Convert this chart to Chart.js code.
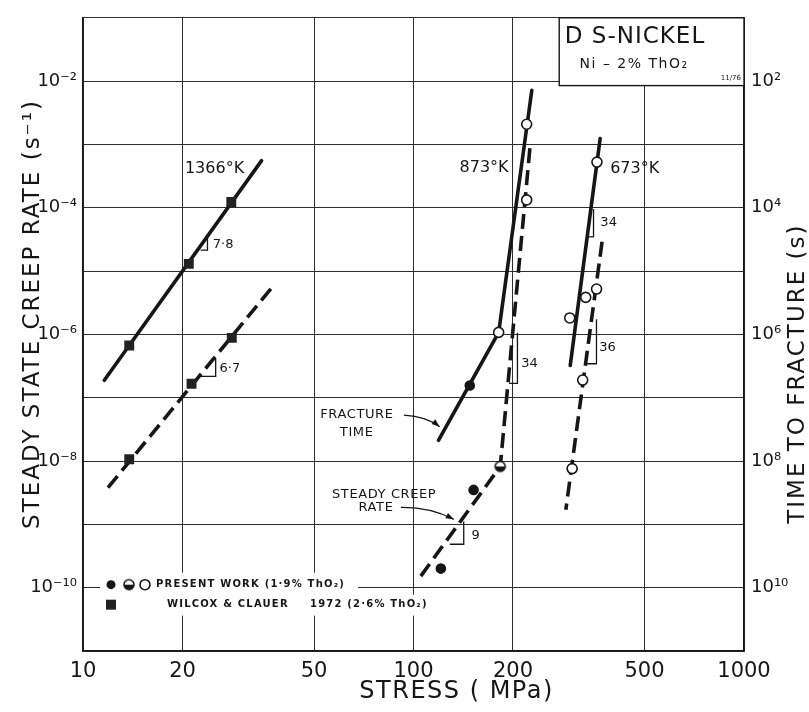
<!DOCTYPE html>
<html><head><meta charset="utf-8">
<script src="https://cdn.jsdelivr.net/npm/chart.js@4.4.0/dist/chart.umd.min.js"></script>
<style>html,body{margin:0;padding:0;background:#fff;}#wrap{width:809px;height:712px;position:relative;}</style>
</head><body><div id="wrap"><canvas id="c"></canvas></div>
<script>
// ---------------- DATA ----------------
const stressTicks = [10, 20, 50, 100, 200, 500, 1000];
const rateTicks = [1e-11, 1e-10, 1e-9, 1e-8, 1e-7, 1e-6, 1e-5, 1e-4, 1e-3, 1e-2, 1e-1];
const rateLabelExps = [-2, -4, -6, -8, -10];
const timeTicks = [1e1, 1e2, 1e3, 1e4, 1e5, 1e6, 1e7, 1e8, 1e9, 1e10, 1e11];
const timeLabelExps = [2, 4, 6, 8, 10];

// 1366 K  (Wilcox & Clauer 1972, squares)
const w1366FracLineStress = [11.6, 34.7];
const w1366FracLineTime = [5.3e6, 1.8e3];
const w1366FracStress = [13.8, 20.9, 28.1];
const w1366FracTime = [1.5e6, 7.7e4, 8.1e3];
const w1366CreepLineStress = [11.9, 37.6];
const w1366CreepLineRate = [3.8e-9, 5.8e-6];
const w1366CreepStress = [13.8, 21.3, 28.2];
const w1366CreepRate = [1.07e-8, 1.66e-7, 8.8e-7];

// 873 K  (present work)
const p873FracLineStress = [228, 181, 119];
const p873FracLineTime = [1.4e2, 9.3e5, 4.7e7];
const p873FracOpenStress = [220, 181];
const p873FracOpenTime = [4.8e2, 9.3e5];
const p873FracFilledStress = [148];
const p873FracFilledTime = [6.4e6];
const p873CreepLineStress = [225, 183, 104];
const p873CreepLineRate = [8.7e-4, 8.2e-9, 1.4e-10];
const p873CreepOpenStress = [220];
const p873CreepOpenRate = [1.33e-4];
const p873CreepHalfStress = [183];
const p873CreepHalfRate = [8.2e-9];
const p873CreepFilledStress = [152, 121];
const p873CreepFilledRate = [3.5e-9, 2.0e-10];

// 673 K  (present work)
const p673FracLineStress = [367, 298];
const p673FracLineTime = [8.1e2, 3.1e6];
const p673FracOpenStress = [359, 332, 297];
const p673FracOpenTime = [1.9e3, 2.6e5, 5.5e5];
const p673CreepLineStress = [372, 289];
const p673CreepLineRate = [2.9e-5, 1.7e-9];
const p673CreepOpenStress = [358, 325, 302];
const p673CreepOpenRate = [5.2e-6, 1.9e-7, 7.6e-9];

// annotations (data coordinates: stress, creep-rate)
const tempLabels = ['1366°K', '873°K', '673°K'];
const tempLabelStress = [25.0, 163.5, 467];
const tempLabelRate = [4.1e-4, 4.2e-4, 4.1e-4];

const slopeLabels = ['7·8', '6·7', '34', '34', '36', '9'];
const slopeTopStress = [23.8, 25.2, 350.5, 206.3, 357.8, 141.9];
const slopeTopRate = [3.42e-5, 4.16e-7, 9.57e-5, 1.06e-6, 1.74e-6, 1.11e-9];
const slopeCornerRate = [2.14e-5, 2.17e-7, 3.48e-5, 1.69e-7, 3.44e-7, 4.85e-10];
const slopeLeftStress = [22.7, 22.7, 335.6, 194.5, 332.7, 128.8];
const slopeTextStress = [24.7, 25.9, 367.6, 211.7, 364.5, 149.8];
const slopeTextRate = [2.65e-5, 2.9e-7, 5.75e-5, 3.47e-7, 6.1e-7, 6.68e-10];

const noteLines = ['FRACTURE', 'TIME', 'STEADY CREEP', 'RATE'];
const noteStress = [67.4, 67.3, 81.5, 77.0];
const noteRate = [5.46e-8, 2.85e-8, 2.99e-9, 1.81e-9];

const arrowStartStress = [93.5, 91.6];
const arrowStartRate = [5.3e-8, 1.85e-9];
const arrowCtrlStress = [109.7, 112.1];
const arrowCtrlRate = [5.04e-8, 1.88e-9];
const arrowEndStress = [120, 132.4];
const arrowEndRate = [3.49e-8, 1.2e-9];

const boxLines = ['D S-NICKEL', 'Ni – 2% ThO₂'];
const boxLineStress = [468, 465];
const boxLineRate = [0.05, 0.0183];
const boxDate = '11/76';
const boxLeftStress = 276;
const boxBottomRate = 8.5e-3;

const legendPresent = 'PRESENT WORK (1·9% ThO₂)';
const legendWilcox = 'WILCOX & CLAUER';
const legendWilcoxYear = '1972 (2·6% ThO₂)';

const xTitle = 'STRESS ( MPa)';
const xTitleStress = 135;
const yTitle = 'STEADY STATE CREEP RATE (s⁻¹)';
const yTitleRate = 2.1e-6;
const y2Title = 'TIME TO FRACTURE (s)';
const y2TitleRate = 2.4e-7;

// ---------------- CHART ----------------
const F = "'DejaVu Sans', sans-serif";
const INK = '#161616';
const SUP = {'-':'⁻','0':'⁰','1':'¹','2':'²','3':'³','4':'⁴','5':'⁵','6':'⁶','7':'⁷','8':'⁸','9':'⁹'};
const sup = n => String(n).split('').map(c => SUP[c]).join('');
const pts = (xs, ys) => xs.map((x, i) => ({x: x, y: ys[i]}));

function halfCircle(r) {
  const s = 2 * r + 4, c = document.createElement('canvas');
  c.width = c.height = s;
  const g = c.getContext('2d'), m = s / 2;
  g.beginPath(); g.arc(m, m, r, 0, 2 * Math.PI); g.fillStyle = '#fff'; g.fill();
  g.beginPath(); g.arc(m, m, r, 0, Math.PI); g.closePath(); g.fillStyle = INK; g.fill();
  g.beginPath(); g.arc(m, m, r, 0, 2 * Math.PI); g.lineWidth = 1.6; g.strokeStyle = INK; g.stroke();
  return c;
}
const halfImg = halfCircle(5);

function lineDs(data, axis, dashed) {
  return {data, yAxisID: axis, showLine: true, borderColor: INK, borderWidth: 3.6,
    borderDash: dashed ? [15, 7] : [], borderCapStyle: dashed ? 'butt' : 'round',
    pointRadius: 0, pointHoverRadius: 0, fill: false, tension: 0, order: 2};
}
function ptDs(data, axis, kind) {
  const d = {data, yAxisID: axis, showLine: false, order: 1, pointBorderColor: INK, pointBorderWidth: 1.6};
  if (kind === 'square') { d.pointStyle = 'rect'; d.pointRadius = 7; d.pointBackgroundColor = '#222'; d.pointBorderWidth = 0; }
  else if (kind === 'open') { d.pointStyle = 'circle'; d.pointRadius = 5; d.pointBackgroundColor = '#fff'; }
  else if (kind === 'filled') { d.pointStyle = 'circle'; d.pointRadius = 4.5; d.pointBackgroundColor = INK; }
  else { d.pointStyle = halfImg; d.pointRadius = 5; }
  return d;
}

const datasets = [
  lineDs(pts(w1366FracLineStress, w1366FracLineTime), 'y2', false),
  lineDs(pts(w1366CreepLineStress, w1366CreepLineRate), 'y', true),
  lineDs(pts(p873FracLineStress, p873FracLineTime), 'y2', false),
  lineDs(pts(p873CreepLineStress, p873CreepLineRate), 'y', true),
  lineDs(pts(p673FracLineStress, p673FracLineTime), 'y2', false),
  lineDs(pts(p673CreepLineStress, p673CreepLineRate), 'y', true),
  ptDs(pts(w1366FracStress, w1366FracTime), 'y2', 'square'),
  ptDs(pts(w1366CreepStress, w1366CreepRate), 'y', 'square'),
  ptDs(pts(p873FracOpenStress, p873FracOpenTime), 'y2', 'open'),
  ptDs(pts(p873FracFilledStress, p873FracFilledTime), 'y2', 'filled'),
  ptDs(pts(p873CreepOpenStress, p873CreepOpenRate), 'y', 'open'),
  ptDs(pts(p873CreepHalfStress, p873CreepHalfRate), 'y', 'half'),
  ptDs(pts(p873CreepFilledStress, p873CreepFilledRate), 'y', 'filled'),
  ptDs(pts(p673FracOpenStress, p673FracOpenTime), 'y2', 'open'),
  ptDs(pts(p673CreepOpenStress, p673CreepOpenRate), 'y', 'open')
];

function drawMarker(ctx, kind, x, y) {
  ctx.save();
  ctx.fillStyle = INK; ctx.strokeStyle = INK; ctx.lineWidth = 1.6;
  if (kind === 'square') { ctx.fillStyle = '#222'; ctx.fillRect(x - 5, y - 5, 10, 10); }
  else if (kind === 'filled') { ctx.beginPath(); ctx.arc(x, y, 4.5, 0, 2 * Math.PI); ctx.fill(); }
  else if (kind === 'open') { ctx.beginPath(); ctx.arc(x, y, 5, 0, 2 * Math.PI); ctx.fillStyle = '#fff'; ctx.fill(); ctx.stroke(); }
  else { ctx.drawImage(halfImg, x - halfImg.width / 2, y - halfImg.height / 2); }
  ctx.restore();
}
function spacing(ctx, v) { if ('letterSpacing' in ctx) ctx.letterSpacing = v; }

const decor = {
  id: 'decor',
  afterDatasetsDraw(chart) {
    const ctx = chart.ctx, sx = chart.scales.x, sy = chart.scales.y, a = chart.chartArea;
    const X = v => sx.getPixelForValue(v), Y = v => sy.getPixelForValue(v);
    ctx.save();
    ctx.fillStyle = INK; ctx.strokeStyle = INK;

    // info box
    const bx = X(boxLeftStress), by = Y(boxBottomRate);
    ctx.fillStyle = '#fff'; ctx.fillRect(bx, a.top, a.right - bx, by - a.top);
    ctx.lineWidth = 1.4; ctx.strokeRect(bx, a.top, a.right - bx, by - a.top);
    ctx.fillStyle = INK; ctx.textAlign = 'center'; ctx.textBaseline = 'middle';
    ctx.font = '23px ' + F; spacing(ctx, '1px');
    ctx.fillText(boxLines[0], X(boxLineStress[0]), Y(boxLineRate[0]));
    ctx.font = '14px ' + F; spacing(ctx, '1.5px');
    ctx.fillText(boxLines[1], X(boxLineStress[1]), Y(boxLineRate[1]));
    spacing(ctx, '0px');
    ctx.font = '7px ' + F; ctx.textAlign = 'right';
    ctx.fillText(boxDate, a.right - 3, by - 7);

    // temperature labels
    ctx.textAlign = 'center'; ctx.font = '16px ' + F;
    tempLabels.forEach((t, i) => ctx.fillText(t, X(tempLabelStress[i]), Y(tempLabelRate[i])));

    // slope brackets
    ctx.lineWidth = 1.3; ctx.font = '13px ' + F; ctx.textAlign = 'left';
    slopeLabels.forEach((t, i) => {
      const xv = X(slopeTopStress[i]);
      ctx.beginPath();
      ctx.moveTo(xv, Y(slopeTopRate[i]));
      ctx.lineTo(xv, Y(slopeCornerRate[i]));
      ctx.lineTo(X(slopeLeftStress[i]), Y(slopeCornerRate[i]));
      ctx.stroke();
      ctx.fillText(t, X(slopeTextStress[i]), Y(slopeTextRate[i]));
    });

    // notes + arrows
    ctx.font = '13px ' + F; ctx.textAlign = 'center';
    spacing(ctx, '0.6px');
    noteLines.forEach((t, i) => ctx.fillText(t, X(noteStress[i]), Y(noteRate[i])));
    spacing(ctx, '0px');
    ctx.lineWidth = 1.3;
    arrowStartStress.forEach((s, i) => {
      const x0 = X(s), y0 = Y(arrowStartRate[i]);
      const cx = X(arrowCtrlStress[i]), cy = Y(arrowCtrlRate[i]);
      const x1 = X(arrowEndStress[i]), y1 = Y(arrowEndRate[i]);
      ctx.beginPath(); ctx.moveTo(x0, y0); ctx.quadraticCurveTo(cx, cy, x1, y1); ctx.stroke();
      const ang = Math.atan2(y1 - cy, x1 - cx), L = 8, W = 3;
      ctx.beginPath();
      ctx.moveTo(x1, y1);
      ctx.lineTo(x1 - L * Math.cos(ang) + W * Math.sin(ang), y1 - L * Math.sin(ang) - W * Math.cos(ang));
      ctx.lineTo(x1 - L * Math.cos(ang) - W * Math.sin(ang), y1 - L * Math.sin(ang) + W * Math.cos(ang));
      ctx.closePath(); ctx.fill();
    });

    // legend
    const lx = a.left + 17, ly = sy.getPixelForValue(1e-10) - 15;
    ctx.fillStyle = '#fff';
    ctx.fillRect(lx, ly, 258, 22);
    ctx.fillRect(lx, ly + 22, 314, 21);
    drawMarker(ctx, 'filled', lx + 11, ly + 12);
    drawMarker(ctx, 'half', lx + 29, ly + 12);
    drawMarker(ctx, 'open', lx + 45, ly + 12);
    drawMarker(ctx, 'square', lx + 11, ly + 32);
    ctx.fillStyle = INK; ctx.textAlign = 'left'; ctx.textBaseline = 'middle';
    ctx.font = 'bold 10px ' + F;
    spacing(ctx, '1.2px');
    ctx.fillText(legendPresent, lx + 56, ly + 12);
    ctx.fillText(legendWilcox, lx + 67, ly + 32);
    ctx.fillText(legendWilcoxYear, lx + 210, ly + 32);

    // axis titles
    ctx.font = '23px ' + F; ctx.textAlign = 'center'; ctx.textBaseline = 'middle';
    spacing(ctx, '2px');
    ctx.save(); ctx.translate(a.left - 50, Y(yTitleRate)); ctx.rotate(-Math.PI / 2);
    ctx.fillText(yTitle, 0, 0); ctx.restore();
    ctx.save(); ctx.translate(a.right + 54, Y(y2TitleRate)); ctx.rotate(-Math.PI / 2);
    ctx.fillText(y2Title, 0, 0); ctx.restore();
    ctx.font = '24px ' + F; spacing(ctx, '1.5px');
    ctx.fillText(xTitle, X(xTitleStress), a.bottom + 41);
    spacing(ctx, '0px');
    ctx.restore();
  }
};

const gridCol = '#2e2e2e';
new Chart(document.getElementById('c'), {
  type: 'scatter',
  data: {datasets},
  plugins: [decor],
  options: {
    responsive: true, maintainAspectRatio: false, animation: false,
    layout: {padding: {top: 13, left: 0, right: 0, bottom: 0}},
    plugins: {legend: {display: false}, tooltip: {enabled: false}},
    events: [],
    scales: {
      x: {
        type: 'logarithmic', position: 'bottom', min: 10, max: 1000,
        afterBuildTicks: s => { s.ticks = stressTicks.map(v => ({value: v})); },
        afterFit: s => { s.height = 61; },
        ticks: {callback: v => String(v), font: {family: F, size: 21}, color: INK, padding: 8, maxRotation: 0, autoSkip: false},
        grid: {color: gridCol, lineWidth: 1, drawTicks: false},
        border: {color: INK, width: 1.5}
      },
      y: {
        type: 'logarithmic', position: 'left', min: 1e-11, max: 1e-1,
        afterBuildTicks: s => { s.ticks = rateTicks.map(v => ({value: v})); },
        afterFit: s => { s.width = 83; },
        ticks: {callback: v => { const e = Math.round(Math.log10(v)); return rateLabelExps.includes(e) ? '10' + sup(e) : ''; },
          font: {family: F, size: 18}, color: INK, padding: 6, autoSkip: false},
        grid: {color: gridCol, lineWidth: 1, drawTicks: false},
        border: {color: INK, width: 1.5}
      },
      y2: {
        type: 'logarithmic', position: 'right', reverse: true, min: 1e1, max: 1e11,
        afterBuildTicks: s => { s.ticks = timeTicks.map(v => ({value: v})); },
        afterFit: s => { s.width = 65; },
        ticks: {callback: v => { const e = Math.round(Math.log10(v)); return timeLabelExps.includes(e) ? '10' + sup(e) : ''; },
          font: {family: F, size: 18}, color: INK, padding: 7, autoSkip: false},
        grid: {drawOnChartArea: false, drawTicks: false},
        border: {color: INK, width: 1.5}
      }
    }
  }
});
</script>
</body></html>
